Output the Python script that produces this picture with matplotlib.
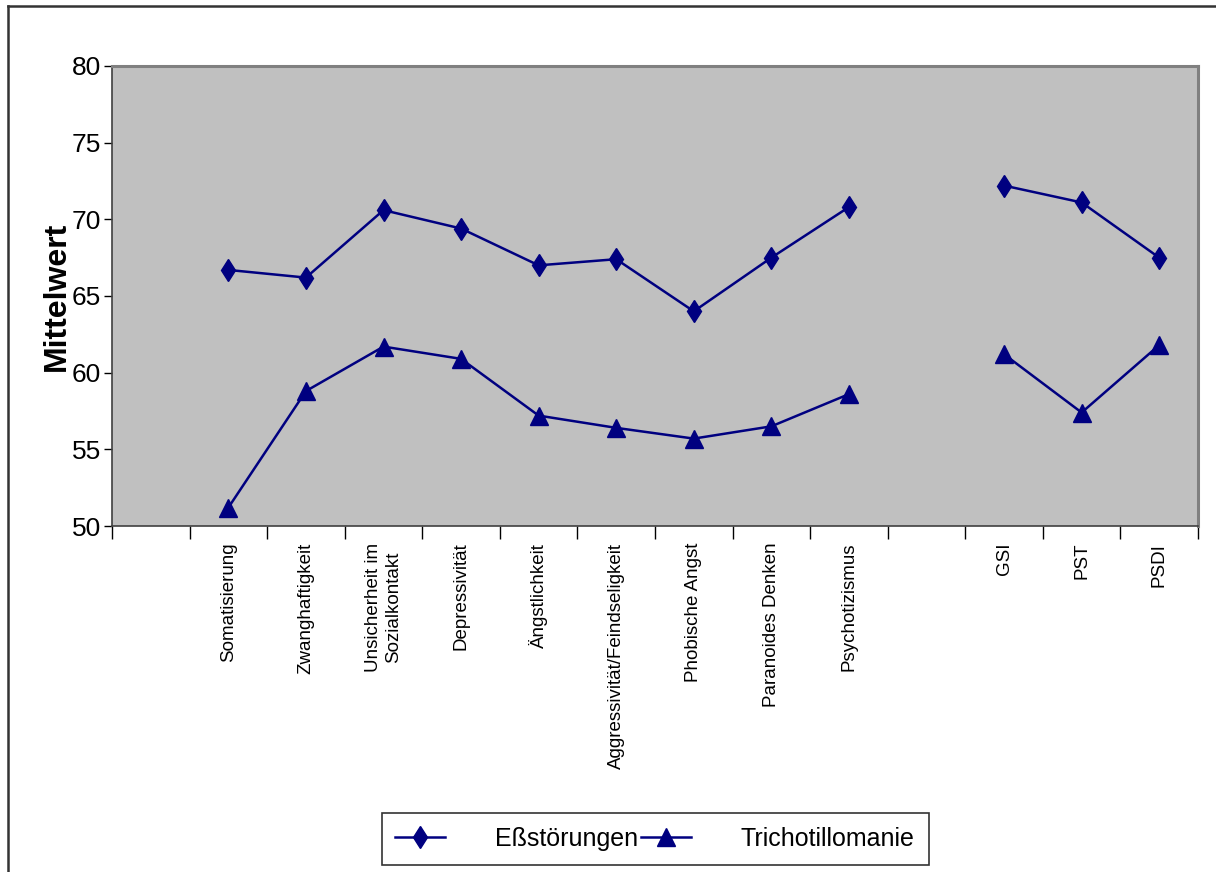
import matplotlib
matplotlib.use("Agg")
import matplotlib.pyplot as plt
import numpy as np
from matplotlib.lines import Line2D

plt.rcParams["font.family"] = ["Liberation Sans", "DejaVu Sans"]

# SCL-90-R scales; empty entries leave gaps between the groups
categories = ["", "Somatisierung", "Zwanghaftigkeit", "Unsicherheit im\nSozialkontakt",
              "Depressivität", "Ängstlichkeit", "Aggressivität/Feindseligkeit",
              "Phobische Angst", "Paranoides Denken", "Psychotizismus", "",
              "GSI", "PST", "PSDI"]
ess = [None, 66.7, 66.2, 70.6, 69.4, 67.0, 67.4, 64.0, 67.5, 70.8, None, 72.2, 71.1, 67.5]
tricho = [None, 51.2, 58.8, 61.7, 60.9, 57.2, 56.4, 55.7, 56.5, 58.6, None, 61.2, 57.4, 61.8]
series_names = ["Eßstörungen", "Trichotillomanie"]
yticks = [50, 55, 60, 65, 70, 75, 80]

navy = "#000080"
x = np.arange(len(categories))
to_arr = lambda v: np.array([np.nan if a is None else a for a in v], dtype=float)

fig = plt.figure(figsize=(12.16, 8.72), dpi=100)
ax = fig.add_axes([112 / 1216, 1 - 526 / 872, 1086 / 1216, 460 / 872])
ax.set_facecolor("#C0C0C0")

ax.plot(x, to_arr(ess), color=navy, lw=1.8, marker="d", ms=11.5, mfc=navy, mec=navy,
        label=series_names[0])
ax.plot(x, to_arr(tricho), color=navy, lw=1.8, marker="^", ms=13, mfc=navy, mec=navy,
        label=series_names[1])

ax.set_xlim(-0.5, len(categories) - 0.5)
ax.set_ylim(yticks[0], yticks[-1])
ax.set_yticks(yticks)
ax.tick_params(axis="y", direction="out", length=6, width=1, pad=2, labelsize=19)

ax.set_xticks(x)
ax.set_xticklabels(categories, rotation=90, va="top", ha="center", fontsize=13.5,
                   linespacing=1.3)
ax.set_xticks(np.arange(len(categories) + 1) - 0.5, minor=True)
ax.tick_params(axis="x", which="major", length=0, pad=12)
ax.tick_params(axis="x", which="minor", direction="out", length=9, width=1)

for side in ("top", "right"):
    ax.spines[side].set_color("#808080")
    ax.spines[side].set_linewidth(2.2)
for side in ("left", "bottom"):
    ax.spines[side].set_color("#404040")
    ax.spines[side].set_linewidth(1.2)

ax.set_ylabel("Mittelwert", fontsize=23, fontweight="bold", labelpad=0)

leg = fig.legend(loc="center", bbox_to_anchor=(655 / 1216, 1 - 839 / 872), ncol=2,
                 fontsize=18, frameon=True, fancybox=False, handlelength=2.0,
                 handletextpad=2.0, columnspacing=0.1, borderpad=0.55,
                 borderaxespad=0)
leg.get_frame().set_edgecolor("black")
leg.get_frame().set_linewidth(1.2)

# outer chart frame (left and top edges)
fig.add_artist(Line2D([8 / 1216, 8 / 1216], [0, 1 - 6 / 872], color="#333333", lw=1.8,
                      transform=fig.transFigure))
fig.add_artist(Line2D([8 / 1216, 1], [1 - 6 / 872, 1 - 6 / 872], color="#333333", lw=1.8,
                      transform=fig.transFigure))

fig.savefig("out.png", dpi=100)
